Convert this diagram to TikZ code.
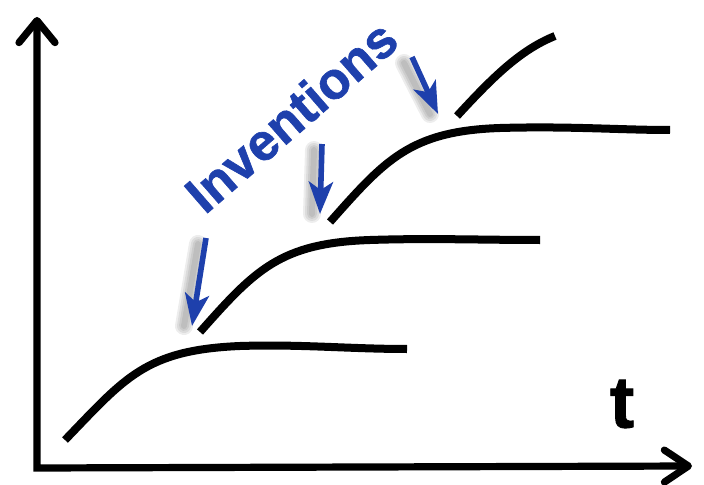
\documentclass[tikz,border=0pt]{standalone}
\usepackage{fontspec}
\setmainfont{Liberation Sans}
\newfontfamily\heavyfont{Liberation Sans Bold}[FakeBold=1.2]
\usetikzlibrary{arrows.meta}
\definecolor{InvBlue}{RGB}{30, 64, 172}

\begin{document}
\begin{tikzpicture}[x=0.025cm, y=-0.025cm,
    axis/.style={line width=0.18cm, line join=miter,
      {Straight Barb[length=0.55cm, width=0.9cm, line cap=round, line join=round]}-{Straight Barb[length=0.6cm, width=0.8cm, line cap=round, line join=round]}},
    curve/.style={line width=0.2cm},
    invarrow/.style={InvBlue, line width=0.14cm, -{Stealth[length=0.8cm, width=0.6cm, inset=0.2cm]}},
    shadowarrow/.style={black, opacity=0.07, line cap=round},
  ]
    \useasboundingbox (0,0) rectangle (704,485);

    % Axes
    \coordinate (O) at (37,468);
    \coordinate (ytip) at (37,17);
    \coordinate (xtip) at (692,466);
    \draw[axis] (ytip) -- (O) -- (xtip);
    \node[font=\heavyfont\fontsize{52}{54}\selectfont] (t) at (622,404) {t};

    % S-curves
    \draw[curve] (65,440) .. controls (125,378) and (145,350) .. (240,346)
                 .. controls (300,344) and (350,349) .. (407,349);
    \draw[curve] (200,332) .. controls (255,270) and (280,243) .. (370,240)
                 .. controls (430,238) and (480,240) .. (540,240);
    \draw[curve] (330,222) .. controls (385,160) and (410,131) .. (500,128)
                 .. controls (570,126) and (620,130) .. (670,130);
    \draw[curve] (457,116) .. controls (492,78) and (520,50) .. (555,36);

    % Label
    \node[InvBlue, rotate=41, font=\heavyfont\fontsize{37}{39}\selectfont]
      (label) at (291,116) {Inventions};

    % Invention arrows
    \coordinate (a1) at (206,238);
    \coordinate (b1) at (192,326);
    \coordinate (a2) at (322,144);
    \coordinate (b2) at (320,214);
    \coordinate (a3) at (412,57);
    \coordinate (b3) at (438,114);
    \foreach \w in {0.15,0.25,0.35,0.45} {
      \draw[shadowarrow, line width=\w cm] ([shift={(-8,6)}]a1) -- ([shift={(-8,0)}]b1);
      \draw[shadowarrow, line width=\w cm] ([shift={(-8,6)}]a2) -- ([shift={(-8,0)}]b2);
      \draw[shadowarrow, line width=\w cm] ([shift={(-8,6)}]a3) -- ([shift={(-8,0)}]b3);
    }
    \draw[invarrow] (a1) -- (b1);
    \draw[invarrow] (a2) -- (b2);
    \draw[invarrow] (a3) -- (b3);
\end{tikzpicture}
\end{document}
